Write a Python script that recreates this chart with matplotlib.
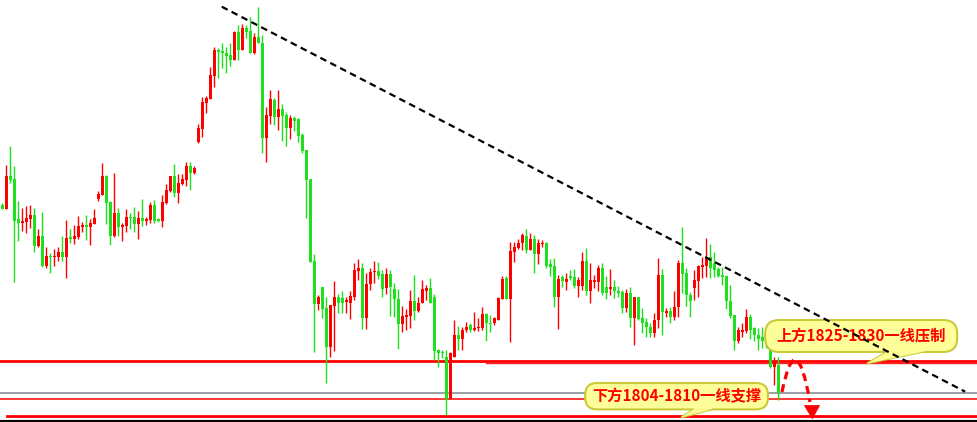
import numpy as np
import matplotlib
matplotlib.use("Agg")
import matplotlib.pyplot as plt
from matplotlib.patches import FancyBboxPatch, Polygon, PathPatch
from matplotlib.path import Path

plt.rcParams['font.family'] = ['Noto Sans CJK SC', 'DejaVu Sans']

# candle data (price units), one entry per bar
opens = [1907.5, 1905.7, 1922.0, 1920.5, 1900.3, 1898.7, 1899.0, 1900.3, 1902.5, 1887.0,
         1892.0, 1877.0, 1882.2, 1881.3, 1881.7, 1884.0, 1881.7, 1891.3, 1890.7, 1891.7,
         1896.7, 1897.5, 1896.7, 1898.2, 1910.7, 1912.5, 1922.0, 1909.0, 1892.0, 1903.5,
         1896.7, 1897.0, 1901.7, 1901.3, 1898.0, 1901.0, 1899.7, 1900.0, 1907.5, 1900.3,
         1899.7, 1908.7, 1914.5, 1922.0, 1913.7, 1918.0, 1920.0, 1927.0, 1923.7, 1939.2,
         1945.5, 1958.7, 1960.7, 1972.0, 1985.0, 1984.5, 1983.3, 1982.5, 1980.0, 1994.2,
         1985.0, 1995.8, 1994.7, 1983.7, 1991.3, 1988.3, 1940.8, 1952.0, 1960.0, 1951.7,
         1955.5, 1952.5, 1946.2, 1951.2, 1950.3, 1942.5, 1935.0, 1920.5, 1879.5, 1857.8,
         1866.7, 1855.8, 1836.7, 1857.0, 1861.7, 1860.8, 1859.2, 1858.7, 1861.7, 1874.7,
         1875.8, 1851.2, 1867.8, 1873.8, 1874.5, 1873.0, 1865.8, 1873.0, 1865.3, 1860.3,
         1847.8, 1851.7, 1852.0, 1859.7, 1854.5, 1858.3, 1864.7, 1865.8, 1861.3, 1835.0,
         1834.2, 1831.7, 1810.3, 1831.7, 1842.5, 1840.3, 1845.0, 1847.5, 1845.0, 1845.8,
         1846.2, 1852.8, 1848.7, 1848.3, 1850.0, 1860.3, 1870.8, 1860.3, 1884.2, 1886.2,
         1888.3, 1892.0, 1885.0, 1890.3, 1882.8, 1887.8, 1888.7, 1877.8, 1877.0, 1861.7,
         1871.3, 1869.2, 1872.0, 1871.3, 1867.0, 1867.0, 1879.5, 1864.5, 1869.2, 1869.2,
         1875.8, 1866.3, 1865.5, 1866.3, 1864.7, 1864.2, 1855.8, 1863.3, 1850.8, 1861.3,
         1850.8, 1849.2, 1846.7, 1843.7, 1850.0, 1872.5, 1853.7, 1854.7, 1851.7, 1856.3,
         1878.3, 1873.3, 1862.5, 1865.8, 1869.7, 1876.7, 1877.0, 1881.3, 1878.3, 1875.3,
         1872.5, 1872.0, 1859.7, 1852.5, 1839.7, 1844.2, 1844.7, 1851.7, 1845.8, 1842.5,
         1841.3, 1840.0, 1843.0, 1826.7, 1827.5]
highs = [1908.5, 1927.5, 1937.0, 1927.0, 1909.5, 1905.8, 1907.2, 1907.5, 1905.8, 1895.5,
         1904.0, 1886.5, 1883.3, 1885.5, 1886.5, 1892.0, 1900.0, 1895.5, 1897.5, 1901.8,
         1899.2, 1902.5, 1900.7, 1905.5, 1914.5, 1928.5, 1922.5, 1909.5, 1923.5, 1906.0,
         1898.5, 1905.5, 1903.3, 1906.5, 1904.3, 1910.5, 1901.5, 1908.8, 1910.0, 1900.8,
         1912.5, 1918.0, 1922.0, 1928.0, 1923.0, 1923.2, 1929.0, 1929.0, 1927.0, 1948.0,
         1961.3, 1962.2, 1976.7, 1986.7, 1986.2, 1988.7, 1986.3, 1988.3, 1994.7, 1997.5,
         1998.0, 1997.5, 2001.3, 1993.3, 2006.3, 1992.5, 1956.3, 1965.0, 1961.2, 1965.0,
         1958.0, 1954.2, 1952.5, 1952.0, 1950.8, 1943.7, 1935.0, 1920.5, 1883.0, 1862.5,
         1866.7, 1861.7, 1857.5, 1869.7, 1863.0, 1864.7, 1861.7, 1864.7, 1878.3, 1880.3,
         1878.3, 1873.7, 1875.8, 1879.5, 1879.2, 1875.0, 1875.8, 1875.0, 1868.3, 1865.3,
         1857.0, 1855.3, 1865.0, 1872.5, 1861.7, 1870.0, 1867.5, 1870.8, 1863.0, 1835.3,
         1835.0, 1835.0, 1834.2, 1850.0, 1847.0, 1846.7, 1849.2, 1848.3, 1854.2, 1850.8,
         1856.3, 1853.3, 1852.5, 1851.7, 1861.7, 1872.0, 1872.0, 1889.2, 1889.2, 1890.3,
         1893.3, 1895.3, 1893.3, 1892.5, 1890.3, 1890.0, 1889.2, 1880.3, 1880.8, 1872.5,
         1872.5, 1873.3, 1875.0, 1875.3, 1871.3, 1884.2, 1886.2, 1878.3, 1872.5, 1877.5,
         1878.3, 1872.0, 1875.5, 1870.0, 1867.0, 1865.0, 1865.3, 1866.3, 1861.7, 1861.7,
         1855.8, 1850.8, 1848.3, 1853.7, 1880.8, 1875.3, 1855.8, 1856.3, 1864.7, 1880.0,
         1896.3, 1875.8, 1864.2, 1875.0, 1877.5, 1881.7, 1890.8, 1888.0, 1884.2, 1876.7,
         1876.7, 1872.0, 1867.5, 1852.5, 1846.7, 1848.7, 1855.3, 1852.8, 1846.3, 1845.8,
         1846.3, 1843.0, 1845.0, 1831.3, 1831.3]
lows = [1905.7, 1905.7, 1918.7, 1869.2, 1889.5, 1894.5, 1893.7, 1896.2, 1884.2, 1886.3,
        1876.7, 1876.0, 1873.7, 1877.0, 1879.5, 1879.5, 1871.2, 1888.3, 1888.2, 1890.7,
        1894.0, 1890.0, 1887.5, 1898.2, 1909.7, 1912.5, 1897.8, 1887.5, 1891.3, 1892.0,
        1889.5, 1893.8, 1895.5, 1894.0, 1890.7, 1897.2, 1897.5, 1898.7, 1898.7, 1899.2,
        1896.7, 1908.0, 1914.0, 1911.5, 1908.5, 1917.3, 1917.2, 1915.0, 1923.2, 1938.3,
        1941.3, 1953.3, 1960.7, 1966.7, 1971.2, 1975.8, 1973.3, 1977.2, 1980.0, 1980.0,
        1985.0, 1990.8, 1983.7, 1982.8, 1988.3, 1933.7, 1929.2, 1948.0, 1947.5, 1945.0,
        1939.7, 1937.2, 1940.3, 1944.5, 1939.2, 1933.3, 1900.8, 1879.2, 1833.8, 1855.0,
        1851.2, 1818.7, 1831.7, 1834.7, 1853.3, 1853.7, 1853.3, 1850.5, 1860.0, 1870.0,
        1845.5, 1845.5, 1865.0, 1868.3, 1870.5, 1861.3, 1863.0, 1852.0, 1851.7, 1835.3,
        1843.8, 1845.0, 1845.8, 1850.0, 1854.2, 1858.3, 1860.0, 1858.3, 1830.0, 1826.7,
        1830.8, 1802.5, 1810.3, 1831.7, 1835.0, 1835.0, 1844.2, 1844.2, 1844.5, 1844.5,
        1845.0, 1839.7, 1844.2, 1847.5, 1850.0, 1860.3, 1860.3, 1839.2, 1878.8, 1885.3,
        1885.0, 1883.3, 1885.0, 1873.3, 1878.0, 1886.7, 1875.8, 1872.0, 1856.3, 1845.3,
        1866.7, 1865.0, 1870.0, 1865.8, 1861.7, 1865.0, 1862.5, 1858.3, 1865.8, 1864.7,
        1862.5, 1860.3, 1862.5, 1860.8, 1861.7, 1853.3, 1854.2, 1846.3, 1837.5, 1850.0,
        1843.3, 1841.3, 1841.3, 1841.3, 1845.8, 1842.5, 1851.7, 1848.3, 1850.0, 1851.7,
        1863.3, 1857.0, 1851.3, 1860.0, 1861.7, 1870.8, 1871.3, 1870.8, 1871.7, 1871.3,
        1867.5, 1855.3, 1850.8, 1835.0, 1838.3, 1841.7, 1843.3, 1840.3, 1839.7, 1835.0,
        1835.8, 1836.0, 1826.0, 1817.5, 1810.0]
closes = [1905.7, 1922.0, 1920.0, 1899.7, 1898.7, 1899.7, 1901.0, 1902.5, 1887.2, 1892.0,
          1877.0, 1882.0, 1881.3, 1882.2, 1884.0, 1881.7, 1891.0, 1890.7, 1892.0, 1897.0,
          1897.5, 1896.7, 1898.7, 1901.0, 1913.0, 1922.0, 1908.7, 1892.2, 1903.5, 1896.7,
          1897.7, 1901.3, 1900.8, 1898.2, 1901.0, 1899.7, 1900.5, 1907.5, 1899.7, 1899.7,
          1909.0, 1915.0, 1922.0, 1913.7, 1918.7, 1920.5, 1927.0, 1923.7, 1926.0, 1945.8,
          1959.0, 1961.2, 1972.3, 1985.0, 1984.0, 1983.3, 1982.0, 1980.0, 1994.2, 1985.0,
          1995.8, 1994.2, 1983.7, 1991.3, 1988.3, 1940.8, 1952.5, 1960.3, 1951.7, 1955.5,
          1952.2, 1946.2, 1951.2, 1949.7, 1942.2, 1934.5, 1920.0, 1879.2, 1857.8, 1861.7,
          1855.3, 1836.7, 1857.5, 1861.7, 1858.3, 1858.3, 1860.0, 1862.0, 1875.0, 1875.8,
          1851.2, 1867.8, 1874.2, 1874.5, 1872.0, 1865.5, 1873.0, 1866.3, 1860.3, 1847.8,
          1852.0, 1852.5, 1859.7, 1854.5, 1858.3, 1865.3, 1865.8, 1858.3, 1834.5, 1833.7,
          1833.3, 1810.3, 1833.3, 1842.5, 1840.3, 1845.0, 1846.7, 1845.0, 1846.2, 1846.7,
          1852.8, 1848.3, 1848.0, 1850.8, 1860.8, 1870.3, 1860.3, 1884.5, 1886.7, 1888.7,
          1892.5, 1885.0, 1890.3, 1882.8, 1888.3, 1888.7, 1877.2, 1876.7, 1861.7, 1870.5,
          1869.7, 1870.3, 1870.8, 1867.2, 1870.0, 1879.5, 1864.5, 1870.0, 1870.0, 1875.8,
          1863.3, 1863.7, 1866.3, 1864.7, 1863.7, 1855.8, 1863.7, 1850.8, 1861.3, 1850.3,
          1848.7, 1846.3, 1843.3, 1850.0, 1872.5, 1854.2, 1854.7, 1851.7, 1856.3, 1878.3,
          1873.0, 1862.5, 1859.7, 1870.0, 1877.0, 1877.5, 1881.3, 1875.8, 1875.0, 1872.0,
          1871.7, 1859.7, 1852.0, 1839.7, 1845.0, 1845.0, 1851.7, 1845.0, 1842.5, 1840.5,
          1839.7, 1838.0, 1826.7, 1829.5, 1813.3]

# key levels and trend line
resist_level = 1829.5
resist_level2 = 1828.4
gray_level = 1813.3
support_level = 1810.4
support_level2 = 1802.2
trend_x = [54.85, 240.7]
trend_y = [2006.65, 1814.15]

label_up = '上方1825-1830一线压制'
label_down = '下方1804-1810一线支撑'

UP = '#FF0000'
DOWN = '#1EE01E'

o = np.array(opens)
h = np.array(highs)
l = np.array(lows)
c = np.array(closes)
x = np.arange(len(o))
col = [UP if cc >= oo else DOWN for oo, cc in zip(o, c)]

fig = plt.figure(figsize=(9.78, 4.22), dpi=100)
ax = fig.add_axes([0, 1.5 / 422, 1, 420.5 / 422])
ax.set_xlim(-0.575, 243.9)
ax.set_ylim(1799.75, 2010)
for s in ['top', 'left', 'right']:
    ax.spines[s].set_visible(False)
ax.spines['bottom'].set_color('black')
ax.spines['bottom'].set_linewidth(1.5)
ax.set_xticks([])
ax.set_yticks([])

# horizontal levels
ax.axhline(resist_level, color='#FF0000', lw=2.0, zorder=1)
ax.plot([121, 243.9], [resist_level2, resist_level2], color='#FF2020', lw=1.0, zorder=1)
ax.axhline(gray_level, color='#8A9098', lw=1.2, zorder=1)
ax.axhline(support_level, color='#FF0000', lw=1.1, zorder=1)
ax.plot([1.2, 243.9], [support_level2, support_level2], color='#FF0000', lw=2.0, zorder=1)

# candles
body_lo = np.minimum(o, c)
body_h = np.maximum(np.abs(c - o), 0.6)
ax.vlines(x, l, h, colors=col, lw=1.0, zorder=2)
ax.bar(x, body_h, bottom=body_lo, width=0.78, color=col, linewidth=0, zorder=2)


def callout(x0, x1, y0, y1, rs, tail, text):
    fc = '#FFFF99'
    ec = '#C9C93A'
    t1 = Polygon(tail, closed=True, fc=fc, ec=ec, lw=1.5, zorder=3)
    ax.add_patch(t1)
    box = FancyBboxPatch((x0, y0), x1 - x0, y1 - y0,
                         boxstyle='round,pad=0,rounding_size=%s' % rs,
                         mutation_aspect=2, fc=fc, ec=ec, lw=1.5, zorder=3.1)
    ax.add_patch(box)
    inner = [tail[0], tail[1], (tail[1][0], tail[1][1] + 1.2),
             (tail[2][0], tail[2][1] + 1.2), tail[2]]
    ax.add_patch(Polygon(inner[1:], closed=True, fc=fc, ec='none', zorder=3.2))
    ax.add_patch(Polygon([tail[0], tail[1], tail[2]], closed=True, fc=fc,
                         ec='none', zorder=3.2))
    ax.text((x0 + x1) / 2, (y0 + y1) / 2, text, color='#FF0000', fontsize=11,
            fontweight='bold', ha='center', va='center', zorder=4)


callout(190.7, 238.7, 1834.0, 1850.0, 3.5,
        [(216.2, 1828.3), (221.7, 1834.6), (231.2, 1834.6)], label_up)
callout(145.7, 191.4, 1805.3, 1818.5, 3.0,
        [(169.7, 1801.3), (172.9, 1805.4), (177.4, 1805.4)], label_down)

# trend line on top
ax.plot(trend_x, trend_y, color='black', lw=1.6, ls=(0, (3, 2)), zorder=5)

# dashed projection arrow
path = Path([(194.9, 1814.0), (198.4, 1848.5), (201.9, 1809.0)],
            [Path.MOVETO, Path.CURVE3, Path.CURVE3])
ax.add_patch(PathPatch(path, fill=False, ec='#FF0000', lw=2.3,
                       ls=(0, (2.5, 1.6)), zorder=5))
ax.add_patch(Polygon([(200.5, 1807.3), (204.3, 1807.3), (202.5, 1800.6)],
                     closed=True, fc='#FF0000', ec='#FF0000', lw=0.5, zorder=5))

fig.savefig('out.png', dpi=100)
